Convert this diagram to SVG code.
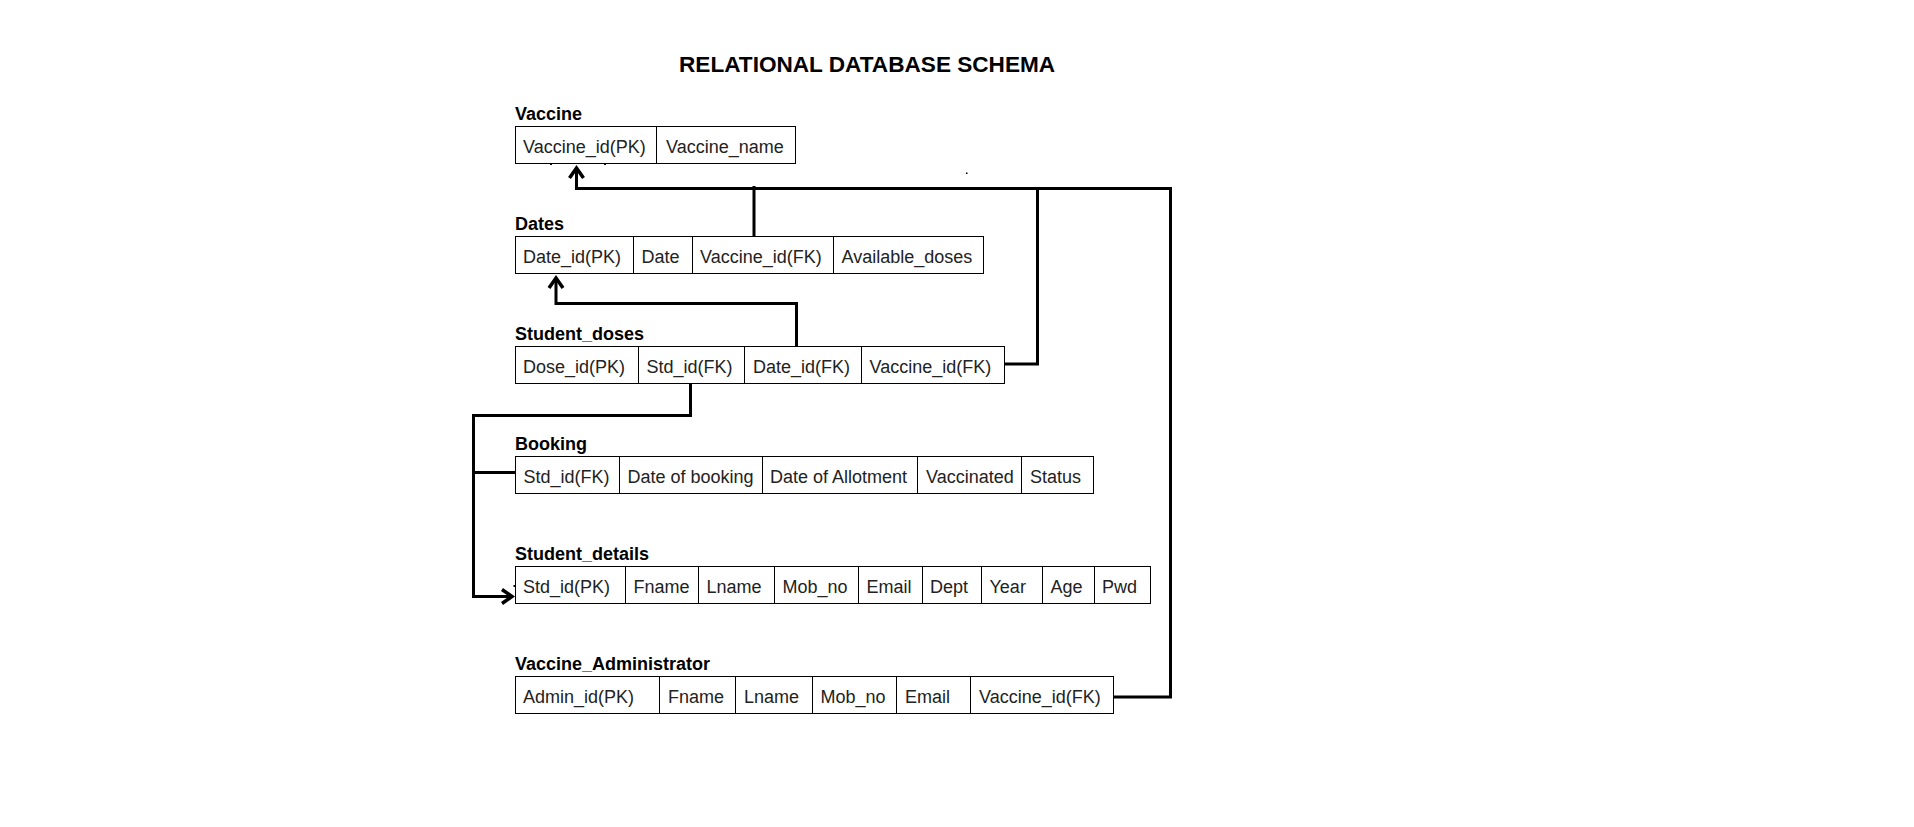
<svg xmlns="http://www.w3.org/2000/svg" width="1914" height="827" viewBox="0 0 1914 827">
  <style>
    .title { font-family: "Liberation Sans", Arial, sans-serif; font-size: 22.6px; font-weight: bold; fill: #000; }
    .label { font-family: "Liberation Sans", Arial, sans-serif; font-size: 18px; font-weight: bold; fill: #000; }
    .cell { font-family: "Liberation Sans", Arial, sans-serif; font-size: 18px; fill: #222; }
    .box { fill: #fff; stroke: #000; stroke-width: 1; }
    .div { stroke: #000; stroke-width: 1; }
    .conn { fill: none; stroke: #000; stroke-width: 3; stroke-linejoin: miter; }
  </style>
  <defs>
    <marker id="arrow" markerUnits="userSpaceOnUse" viewBox="-16 -10 20 20" markerWidth="20" markerHeight="20" refX="0" refY="0" orient="auto">
      <path d="M-10,-7 L0,0 L-10,7" fill="none" stroke="#000" stroke-width="3.5"/>
    </marker>
  </defs>
  <rect width="1914" height="827" fill="#fff"/>

  <text class="title" x="679" y="71.5">RELATIONAL DATABASE SCHEMA</text>

  <g id="connectors">
    <path class="conn" d="M754,237 V186"/>
    <path class="conn" d="M1171.5,188.5 H576.5 V168" marker-end="url(#arrow)"/>
    <path class="conn" d="M1037.5,188.5 V364 H1004.5"/>
    <path class="conn" d="M1170.5,187 V697 H1114"/>
    <path class="conn" d="M796.5,347 V303.5 H556 V278" marker-end="url(#arrow)"/>
    <path class="conn" d="M690.5,384 V415.5 H473.5 V596.5 H512" marker-end="url(#arrow)"/>
    <path class="conn" d="M473.5,472.5 H515"/>
  </g>

  <g id="vaccine">
    <text class="label" x="515" y="119.5">Vaccine</text>
    <rect class="box" x="515.5" y="126.5" width="280" height="37"/>
    <line class="div" x1="656.5" y1="126.5" x2="656.5" y2="163.5"/>
    <text class="cell" x="523" y="152.5">Vaccine_id(PK)</text>
    <text class="cell" x="666" y="152.5">Vaccine_name</text>
  </g>

  <g id="dates">
    <text class="label" x="515" y="230">Dates</text>
    <rect class="box" x="515.5" y="236.5" width="468" height="37"/>
    <line class="div" x1="633.5" y1="236.5" x2="633.5" y2="273.5"/>
    <line class="div" x1="692.5" y1="236.5" x2="692.5" y2="273.5"/>
    <line class="div" x1="833.5" y1="236.5" x2="833.5" y2="273.5"/>
    <text class="cell" x="523" y="262.5">Date_id(PK)</text>
    <text class="cell" x="641.5" y="262.5">Date</text>
    <text class="cell" x="700" y="262.5">Vaccine_id(FK)</text>
    <text class="cell" x="841.5" y="262.5">Available_doses</text>
  </g>

  <g id="student_doses">
    <text class="label" x="515" y="340">Student_doses</text>
    <rect class="box" x="515.5" y="346.5" width="489" height="37"/>
    <line class="div" x1="638.5" y1="346.5" x2="638.5" y2="383.5"/>
    <line class="div" x1="744.5" y1="346.5" x2="744.5" y2="383.5"/>
    <line class="div" x1="861.5" y1="346.5" x2="861.5" y2="383.5"/>
    <text class="cell" x="523" y="372.5">Dose_id(PK)</text>
    <text class="cell" x="646.5" y="372.5">Std_id(FK)</text>
    <text class="cell" x="753" y="372.5">Date_id(FK)</text>
    <text class="cell" x="869.5" y="372.5">Vaccine_id(FK)</text>
  </g>

  <g id="booking">
    <text class="label" x="515" y="450">Booking</text>
    <rect class="box" x="515.5" y="456.5" width="578" height="37"/>
    <line class="div" x1="619.5" y1="456.5" x2="619.5" y2="493.5"/>
    <line class="div" x1="762.5" y1="456.5" x2="762.5" y2="493.5"/>
    <line class="div" x1="917.5" y1="456.5" x2="917.5" y2="493.5"/>
    <line class="div" x1="1021.5" y1="456.5" x2="1021.5" y2="493.5"/>
    <text class="cell" x="523.5" y="482.5">Std_id(FK)</text>
    <text class="cell" x="627.5" y="482.5">Date of booking</text>
    <text class="cell" x="770" y="482.5">Date of Allotment</text>
    <text class="cell" x="926" y="482.5">Vaccinated</text>
    <text class="cell" x="1030" y="482.5">Status</text>
  </g>

  <g id="student_details">
    <text class="label" x="515" y="560">Student_details</text>
    <rect class="box" x="515.5" y="566.5" width="635" height="37"/>
    <line class="div" x1="625.5" y1="566.5" x2="625.5" y2="603.5"/>
    <line class="div" x1="698.5" y1="566.5" x2="698.5" y2="603.5"/>
    <line class="div" x1="774.5" y1="566.5" x2="774.5" y2="603.5"/>
    <line class="div" x1="858.5" y1="566.5" x2="858.5" y2="603.5"/>
    <line class="div" x1="922.5" y1="566.5" x2="922.5" y2="603.5"/>
    <line class="div" x1="981.5" y1="566.5" x2="981.5" y2="603.5"/>
    <line class="div" x1="1042.5" y1="566.5" x2="1042.5" y2="603.5"/>
    <line class="div" x1="1094.5" y1="566.5" x2="1094.5" y2="603.5"/>
    <text class="cell" x="523" y="592.5">Std_id(PK)</text>
    <text class="cell" x="633.5" y="592.5">Fname</text>
    <text class="cell" x="706.5" y="592.5">Lname</text>
    <text class="cell" x="782.5" y="592.5">Mob_no</text>
    <text class="cell" x="866.5" y="592.5">Email</text>
    <text class="cell" x="930" y="592.5">Dept</text>
    <text class="cell" x="989.5" y="592.5">Year</text>
    <text class="cell" x="1050.5" y="592.5">Age</text>
    <text class="cell" x="1102" y="592.5">Pwd</text>
  </g>

  <g id="vaccine_administrator">
    <text class="label" x="515" y="670">Vaccine_Administrator</text>
    <rect class="box" x="515.5" y="676.5" width="598" height="37"/>
    <line class="div" x1="659.5" y1="676.5" x2="659.5" y2="713.5"/>
    <line class="div" x1="735.5" y1="676.5" x2="735.5" y2="713.5"/>
    <line class="div" x1="812.5" y1="676.5" x2="812.5" y2="713.5"/>
    <line class="div" x1="896.5" y1="676.5" x2="896.5" y2="713.5"/>
    <line class="div" x1="970.5" y1="676.5" x2="970.5" y2="713.5"/>
    <text class="cell" x="523" y="702.5">Admin_id(PK)</text>
    <text class="cell" x="668" y="702.5">Fname</text>
    <text class="cell" x="744" y="702.5">Lname</text>
    <text class="cell" x="820.5" y="702.5">Mob_no</text>
    <text class="cell" x="905" y="702.5">Email</text>
    <text class="cell" x="979" y="702.5">Vaccine_id(FK)</text>
  </g>

  <g id="marks" fill="#000">
    <rect x="550" y="163" width="2" height="2"/>
    <rect x="604" y="163" width="2" height="2"/>
    <rect x="966" y="172.5" width="1.5" height="1.5"/>
    <rect x="513.5" y="585" width="2" height="2"/>
  </g>
</svg>
